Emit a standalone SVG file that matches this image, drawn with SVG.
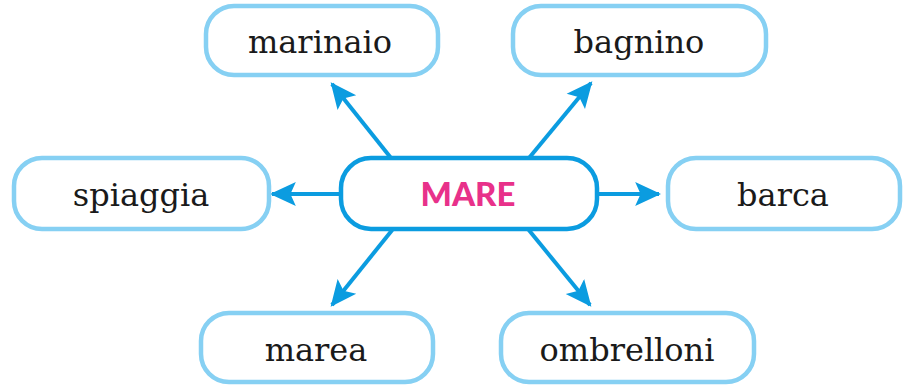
<svg xmlns="http://www.w3.org/2000/svg" width="907" height="388" viewBox="0 0 907 388">
<defs>
<style>
.n{fill:#fff;stroke:#86d0f3;stroke-width:4.5}
.c{fill:#fff;stroke:#0b9ce0;stroke-width:4.5}
.t{font-family:"DejaVu Serif","Liberation Serif",serif;font-size:32px;fill:#1a1a1a;text-anchor:middle}
.m{font-family:"Lato","Open Sans",sans-serif;font-weight:900;font-size:33px;fill:#e8318a;text-anchor:middle}
.a{stroke:#0b9ce0;stroke-width:4;fill:none;marker-end:url(#ah)}
</style>
<marker id="ah" markerUnits="userSpaceOnUse" markerWidth="26" markerHeight="26" viewBox="0 0 24 24" refX="22" refY="12" orient="auto">
<path d="M0,1 L24,12 L0,23 L5,12 Z" fill="#0b9ce0"/>
</marker>
</defs>
<g id="connectors">
<line class="a" x1="391" y1="158" x2="332" y2="84"/>
<line class="a" x1="529" y1="158" x2="591" y2="83"/>
<line class="a" x1="341" y1="194" x2="272" y2="194"/>
<line class="a" x1="597" y1="194" x2="659" y2="194"/>
<line class="a" x1="393" y1="229" x2="332" y2="305"/>
<line class="a" x1="528" y1="229" x2="590" y2="305"/>
</g>
<g id="mare"><rect class="c" x="341" y="158" width="256" height="71" rx="30"/><text class="m" x="468" y="206">MARE</text></g>
<g id="marinaio"><rect class="n" x="206" y="6" width="232" height="69" rx="28"/><text class="t" x="320" y="53">marinaio</text></g>
<g id="bagnino"><rect class="n" x="513" y="6" width="253" height="69" rx="28"/><text class="t" x="639" y="53">bagnino</text></g>
<g id="spiaggia"><rect class="n" x="14" y="158" width="255" height="71" rx="28"/><text class="t" x="141" y="206">spiaggia</text></g>
<g id="barca"><rect class="n" x="668" y="158" width="232" height="71" rx="28"/><text class="t" x="783" y="206">barca</text></g>
<g id="marea"><rect class="n" x="201" y="313" width="232" height="69" rx="28"/><text class="t" x="316" y="361">marea</text></g>
<g id="ombrelloni"><rect class="n" x="501" y="313" width="253" height="69" rx="28"/><text class="t" x="627" y="361">ombrelloni</text></g>
</svg>
